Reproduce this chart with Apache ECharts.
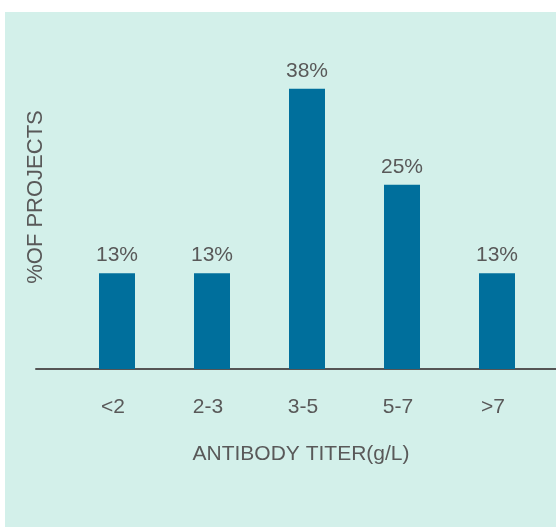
<!DOCTYPE html>
<html>
<head>
<meta charset="utf-8">
<script src="https://cdn.jsdelivr.net/npm/echarts@6/dist/echarts.min.js"></script>
<style>
html,body{margin:0;padding:0;background:#ffffff;width:556px;height:527px;overflow:hidden;}
#chart{position:absolute;left:5px;top:12px;width:551px;height:515px;}
</style>
</head>
<body>
<div id="chart"></div>
<script>
var categories = ['<2', '2-3', '3-5', '5-7', '>7'];
var values = [13, 13, 38, 25, 13];
var xTitle = 'ANTIBODY TITER(g/L)';
var yTitle = '%OF PROJECTS';

var textColor = '#595959';
var font = 'Liberation Sans, Arial, sans-serif';

var chart = echarts.init(document.getElementById('chart'));
chart.setOption({
  backgroundColor: '#d3f0ea',
  animation: false,
  grid: [
    {left: 64.5, right: 11.5, top: 62, bottom: 158},
    {left: 31, right: 0, top: 62, bottom: 158}
  ],
  xAxis: [
    {
      type: 'category',
      gridIndex: 0,
      data: categories,
      axisLine: {show: false},
      axisTick: {show: false},
      axisLabel: {margin: 28, fontSize: 21, color: textColor, fontFamily: font, padding: [0, 8, 0, 0]},
      name: xTitle,
      nameLocation: 'middle',
      nameGap: 75,
      nameTextStyle: {fontSize: 21, color: textColor, fontFamily: font, padding: [0, 12, 0, 0]}
    },
    {
      type: 'value',
      gridIndex: 1,
      min: 0, max: 1,
      axisLine: {show: true, lineStyle: {color: '#555555', width: 2}},
      axisTick: {show: false},
      axisLabel: {show: false},
      splitLine: {show: false}
    }
  ],
  yAxis: [
    {type: 'value', gridIndex: 0, min: 0, max: 40, show: false},
    {type: 'value', gridIndex: 1, min: 0, max: 1, show: false}
  ],
  series: [{
    type: 'bar',
    xAxisIndex: 0,
    yAxisIndex: 0,
    data: values,
    barWidth: 36,
    itemStyle: {color: '#006f9c'},
    label: {
      show: true,
      position: 'top',
      distance: 7,
      formatter: '{c}%',
      fontSize: 21,
      color: textColor,
      fontFamily: font
    }
  }],
  graphic: [{
    type: 'text',
    x: 31,
    y: 185,
    rotation: Math.PI / 2,
    style: {
      text: yTitle,
      fontSize: 22,
      fill: textColor,
      fontFamily: font,
      align: 'center',
      verticalAlign: 'middle'
    }
  }]
});
</script>
</body>
</html>
